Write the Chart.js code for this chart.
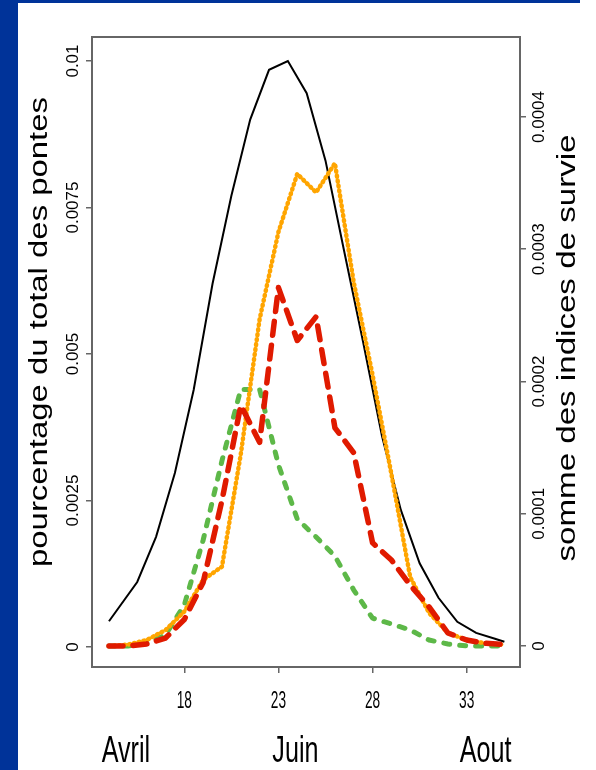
<!DOCTYPE html>
<html>
<head>
<meta charset="utf-8">
<script src="https://cdn.jsdelivr.net/npm/chart.js@4/dist/chart.umd.min.js"></script>
<style>
  html, body { margin: 0; padding: 0; background: #fff; }
  canvas { display: block; }
</style>
</head>
<body>
<canvas id="chart" width="596" height="770"></canvas>
<script>
// semaines (numéro de semaine)
let weeks = [14, 15, 16, 17, 18, 19, 20, 21, 22, 23, 24, 25, 26, 27, 28, 29, 30, 31, 32, 33, 34, 35];

// pourcentage du total des pontes (axe gauche)
let pontesWeeks = [14, 15.5, 16.5, 17.5, 18.5, 19.5, 20.5, 21.5, 22.5, 23.5, 24.5, 25.5, 26.5, 27.5, 28.5, 29.5, 30.5, 31.5, 32.5, 33.5, 34.5, 35];
let pontes = [0.00044, 0.00111, 0.00188, 0.00297, 0.00439, 0.0062, 0.0077, 0.0090, 0.00985, 0.0100, 0.00945, 0.0083, 0.00674, 0.0052, 0.0036, 0.00234, 0.00143, 0.00084, 0.00043, 0.00024, 0.00014, 0.00009];

// somme des indices de survie (axe droit)
let survieOrange = [0, 0.000001, 0.0000045, 0.000012, 0.000026, 0.000050, 0.000060, 0.000145, 0.000247, 0.000313, 0.000357, 0.000343, 0.000365, 0.000275, 0.000205, 0.000130, 0.000052, 0.000025, 0.000010, 0.0000045, 0.000002, 0.000001];
let survieRouge = [0, 0, 0.0000015, 0.000006, 0.00002, 0.000048, 0.000110, 0.000182, 0.000154, 0.000271, 0.000231, 0.000249, 0.000165, 0.000146, 0.000078, 0.000065, 0.000046, 0.0000295, 0.0000098, 0.0000045, 0.000002, 0.000001];
let survieVert = [0, 0, 0.0000023, 0.0000083, 0.000031, 0.000080, 0.00014, 0.000194, 0.000194, 0.000137, 0.000096, 0.0000824, 0.000068, 0.0000423, 0.000021, 0.0000166, 0.0000121, 0.0000045, 0.0000015, 0, 0, 0];

let xTicks = [18, 23, 28, 33];
let leftTicks = [0, 0.0025, 0.005, 0.0075, 0.01];
let leftTickLabels = ['0', '0.0025', '0.005', '0.0075', '0.01'];
let rightTicks = [0, 0.0001, 0.0002, 0.0003, 0.0004];
let rightTickLabels = ['0', '0.0001', '0.0002', '0.0003', '0.0004'];
let monthLabels = ['Avril', 'Juin', 'Aout'];
let monthWeeks = [14.9, 23.9, 34.0];

let leftTitle = 'pourcentage du total des pontes';
let rightTitle = 'somme des indices de survie';

function pts(xs, ys) {
    return xs.map(function (x, i) { return { x: x, y: ys[i] }; });
}

function drawText(ctx, txt, x, y, font, sx, rot) {
    ctx.save();
    ctx.translate(x, y);
    ctx.rotate(rot);
    ctx.font = font;
    ctx.scale(sx, 1);
    ctx.fillText(txt, 0, 0);
    ctx.restore();
}

function fitScale(ctx, txt, font, target) {
    ctx.save();
    ctx.font = font;
    let w = ctx.measureText(txt).width;
    ctx.restore();
    return target / w;
}

const decor = {
    id: 'decor',
    beforeDraw: function (chart) {
        let ctx = chart.ctx;
        ctx.save();
        ctx.fillStyle = '#fff';
        ctx.fillRect(0, 0, chart.width, chart.height);
        ctx.fillStyle = '#003399';
        ctx.fillRect(0, 0, 18, chart.height);
        ctx.fillRect(0, 0, 580, 3);
        ctx.restore();
    },
    afterDraw: function (chart) {
        let ctx = chart.ctx;
        let a = chart.chartArea;
        let sx = chart.scales.x, sl = chart.scales.y, sr = chart.scales.y2;
        ctx.save();
        // cadre
        ctx.strokeStyle = '#666';
        ctx.lineWidth = 2;
        ctx.strokeRect(a.left, a.top, a.right - a.left, a.bottom - a.top);

        ctx.fillStyle = '#000';
        // graduations x
        ctx.textAlign = 'center';
        ctx.textBaseline = 'alphabetic';
        xTicks.forEach(function (v) {
            drawText(ctx, String(v), sx.getPixelForValue(v), 708, '24px "Liberation Sans", Arial, sans-serif', 0.57, 0);
        });
        // mois
        monthLabels.forEach(function (m, i) {
            drawText(ctx, m, sx.getPixelForValue(monthWeeks[i]), 762, '37px "Liberation Sans", Arial, sans-serif', 0.68, 0);
        });
        // graduations y (tournées)
        ctx.textBaseline = 'middle';
        let tf = '17px "Liberation Sans", Arial, sans-serif';
        leftTicks.forEach(function (v, i) {
            drawText(ctx, leftTickLabels[i], 73.5, sl.getPixelForValue(v), tf, 1, -Math.PI / 2);
        });
        rightTicks.forEach(function (v, i) {
            drawText(ctx, rightTickLabels[i], 539, sr.getPixelForValue(v), tf, 1, -Math.PI / 2);
        });
        // titres des axes
        let titleFont = '26px "Liberation Sans", Arial, sans-serif';
        drawText(ctx, leftTitle, 40, 332, titleFont, fitScale(ctx, leftTitle, titleFont, 470), -Math.PI / 2);
        drawText(ctx, rightTitle, 568, 348, titleFont, fitScale(ctx, rightTitle, titleFont, 427), -Math.PI / 2);
        ctx.restore();
    }
};

let axisGrid = { drawOnChartArea: false, drawTicks: true, tickLength: 6, color: '#666', lineWidth: 1.5 };
let axisBorder = { color: '#666', width: 2 };

let chart = new Chart(document.getElementById('chart'), {
    type: 'scatter',
    data: {
        datasets: [
            {
                label: 'rouge',
                data: pts(weeks, survieRouge),
                yAxisID: 'y2',
                showLine: true,
                borderColor: '#e01a00',
                borderWidth: 5.5,
                borderDash: [14, 10],
                borderCapStyle: 'round',
                borderJoinStyle: 'round',
                pointRadius: 0,
                order: 0
            },
            {
                label: 'orange',
                data: pts(weeks, survieOrange),
                yAxisID: 'y2',
                showLine: true,
                borderColor: '#ffa500',
                borderWidth: 4.5,
                borderDash: [1, 4],
                borderCapStyle: 'round',
                borderJoinStyle: 'round',
                pointRadius: 0,
                order: 1
            },
            {
                label: 'vert',
                data: pts(weeks, survieVert),
                yAxisID: 'y2',
                showLine: true,
                borderColor: '#5db848',
                borderWidth: 5,
                borderDash: [6, 10],
                borderCapStyle: 'round',
                borderJoinStyle: 'round',
                pointRadius: 0,
                order: 2
            },
            {
                label: 'pontes',
                data: pts(pontesWeeks, pontes),
                yAxisID: 'y',
                showLine: true,
                borderColor: '#000',
                borderWidth: 2,
                pointRadius: 0,
                order: 3
            }
        ]
    },
    options: {
        responsive: false,
        animation: false,
        layout: { padding: { top: 37, left: 0, right: 0, bottom: 0 } },
        plugins: { legend: { display: false }, tooltip: { enabled: false } },
        scales: {
            x: {
                type: 'linear',
                min: 13.098,
                max: 35.83,
                afterBuildTicks: function (s) { s.ticks = xTicks.map(function (v) { return { value: v }; }); },
                afterFit: function (s) { s.height = 103; },
                ticks: { display: false },
                grid: axisGrid,
                border: axisBorder
            },
            y: {
                position: 'left',
                min: -0.000341,
                max: 0.01041,
                afterBuildTicks: function (s) { s.ticks = leftTicks.map(function (v) { return { value: v }; }); },
                afterFit: function (s) { s.width = 92; },
                ticks: { display: false },
                grid: axisGrid,
                border: axisBorder
            },
            y2: {
                position: 'right',
                min: -0.0000159,
                max: 0.0004605,
                afterBuildTicks: function (s) { s.ticks = rightTicks.map(function (v) { return { value: v }; }); },
                afterFit: function (s) { s.width = 76; },
                ticks: { display: false },
                grid: axisGrid,
                border: axisBorder
            }
        }
    },
    plugins: [decor]
});
</script>
</body>
</html>
